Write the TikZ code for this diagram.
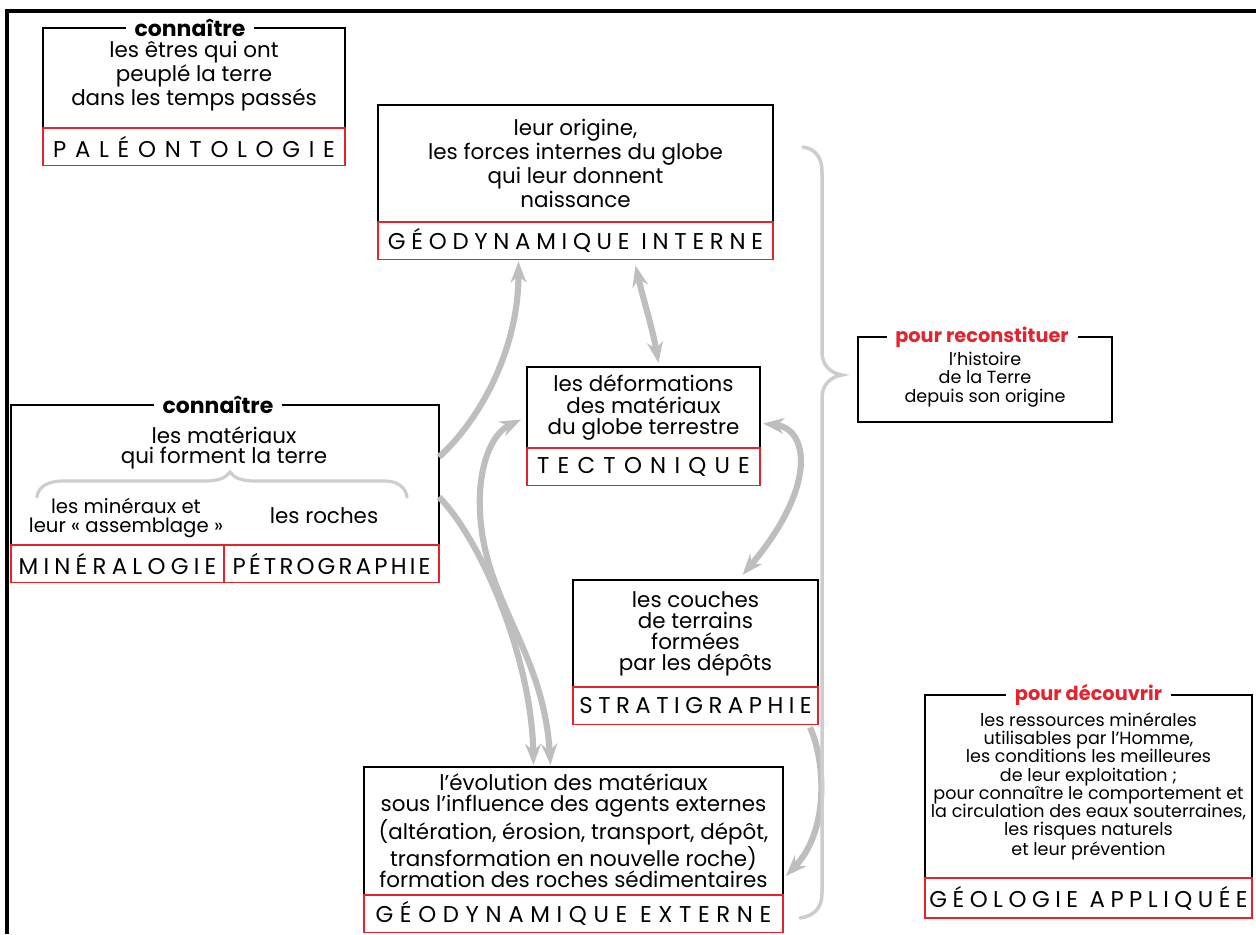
\documentclass[tikz,border=0pt]{standalone}
\usepackage{fontspec}
\setmainfont{Poppins}
\usepackage{xcolor}
\definecolor{geored}{RGB}{228,35,45}
\definecolor{geogray}{RGB}{190,190,190}
\definecolor{geolight}{RGB}{205,205,205}
\usetikzlibrary{arrows.meta,positioning,calc}
\newcommand{\spaced}[2]{{\addfontfeatures{LetterSpace=#1}#2}}

\begin{document}
\begin{tikzpicture}[
  x=0.02cm, y=-0.02cm,
  every node/.style={font=\fontsize{12.2}{12}\selectfont, outer sep=0pt},
  small/.style={font=\fontsize{10}{10.4}\selectfont},
  txtbox/.style={draw=black, line width=0.8pt, align=center, inner sep=0pt},
  lblbox/.style={draw=geored, line width=0.9pt, inner sep=0pt, minimum height=0.75cm,
                 font=\fontsize{13}{15}\selectfont},
  headtag/.style={fill=white, inner xsep=5pt, inner ysep=1pt,
                  font=\fontsize{11}{13}\selectfont\bfseries},
  bigtag/.style={headtag, font=\fontsize{12.5}{14}\selectfont\bfseries},
  flow/.style={draw=geogray, line width=3.5pt, -{Stealth[length=12pt,width=9pt]}},
  flowboth/.style={flow, {Stealth[length=12pt,width=9pt]}-{Stealth[length=12pt,width=9pt]}},
  bracestroke/.style={draw=geolight, line width=1.8pt, line cap=round},
]
  \useasboundingbox (0,0) rectangle (1256,934);
  % frame
  \draw[line width=2.2pt] (7,934) -- (7,11) -- (1256,11);

  % Paleontologie
  \node[txtbox, minimum width=6.04cm, minimum height=2cm] (paleo) at (194,78)
    {les êtres qui ont\\peuplé la terre\\dans les temps passés\rule[-0.18cm]{0pt}{0pt}};
  \node[lblbox, minimum width=6.04cm, below=0pt of paleo] (paleolbl) {\spaced{38}{PALÉONTOLOGIE}};
  \node[bigtag] (paleotag) at ($(paleo.north)+(-4,0)$) {connaître};

  % Mineralogie / Petrographie
  \node[txtbox, minimum width=8.56cm, minimum height=2.8cm] (minpet) at (225,475) {};
  \node[lblbox, anchor=north west, minimum width=4.26cm] (minlbl) at (minpet.south west) {\spaced{23}{MINÉRALOGIE}};
  \node[lblbox, anchor=north east, minimum width=4.3cm] (petlbl) at (minpet.south east) {\spaced{14}{PÉTROGRAPHIE}};
  \node[bigtag] (minpettag) at ($(minpet.north)+(-7,0)$) {connaître};
  \node[align=center, font=\fontsize{12.2}{11.4}\selectfont] (materiaux) at (224,448) {les matériaux\\qui forment la terre};
  \node[align=center, font=\fontsize{11.2}{11}\selectfont] (mineraux) at (126,518) {les minéraux et\\leur «~assemblage~»};
  \node (roches) at (324,516) {les roches};
  \draw[bracestroke] (37,497) .. controls (38,487) and (48,481) .. (62,481) -- (205,481)
    .. controls (218,481) and (226,478) .. (230,472) .. controls (234,478) and (242,481) .. (255,481)
    -- (385,481) .. controls (398,481) and (406,488) .. (407,497);

  % Geodynamique interne
  \node[txtbox, minimum width=7.9cm, minimum height=2.34cm] (geoint) at (575.5,163.5)
    {leur origine,\\les forces internes du globe\\qui leur donnent\\naissance};
  \node[lblbox, minimum width=7.9cm, below=0pt of geoint] (geointlbl) {\spaced{25}{GÉODYNAMIQUE INTERNE}};

  % Tectonique
  \node[txtbox, minimum width=4.66cm, minimum height=1.62cm] (tecto) at (643.5,407.5)
    {les déformations\\des matériaux\\du globe terrestre};
  \node[lblbox, minimum width=4.66cm, below=0pt of tecto] (tectolbl) {\spaced{36}{TECTONIQUE}};

  % pour reconstituer
  \node[txtbox, small, minimum width=5.08cm, minimum height=1.7cm] (recon) at (985,379.5)
    {l’histoire\\de la Terre\\depuis son origine\rule[-0.08cm]{0pt}{0pt}};
  \node[headtag, text=geored] (recontag) at ($(recon.north)+(-3,0)$) {pour reconstituer};

  % Stratigraphie
  \node[txtbox, minimum width=4.9cm, minimum height=2.14cm] (strati) at (695.5,633.5)
    {les couches\\de terrains\\formées\\par les dépôts};
  \node[lblbox, minimum width=4.9cm, below=0pt of strati] (stratilbl) {\spaced{24}{STRATIGRAPHIE}};

  % Geodynamique externe
  \node[txtbox, minimum width=8.38cm, minimum height=2.56cm] (geoext) at (573.5,831)
    {l’évolution des matériaux\\sous l’influence des agents externes\\(altération, érosion, transport, dépôt,\\transformation en nouvelle roche)\\formation des roches sédimentaires};
  \node[lblbox, minimum width=8.38cm, below=0pt of geoext] (geoextlbl) {\spaced{29}{GÉODYNAMIQUE EXTERNE}};

  % Geologie appliquee
  \node[txtbox, small, minimum width=6.54cm, minimum height=3.66cm] (geoapp) at (1088.5,786.5)
    {les ressources minérales\\utilisables par l’Homme,\\les conditions les meilleures\\de leur exploitation ;\\pour connaître le comportement et\\la circulation des eaux souterraines,\\les risques naturels\\et leur prévention};
  \node[lblbox, minimum width=6.54cm, minimum height=0.8cm, below=0pt of geoapp] (geoapplbl) {\spaced{24}{GÉOLOGIE APPLIQUÉE}};
  \node[headtag, text=geored] (geoapptag) at (geoapp.north) {pour découvrir};

  % connectors
  \draw[flow] ($(minpet.east)+(0,-18)$) .. controls +(41,-37) and +(0,88) .. ($(geointlbl.south)+(-57,2)$);
  \draw[flowboth] ($(geointlbl.south)+(60,6)$) .. controls +(8,35) and +(-6,-35) .. ($(tecto.north)+(15,-4)$);
  \draw[flowboth] ($(tecto.west)+(-6,12)$) .. controls +(-31,15) and +(-2,-40) .. (480,510)
    .. controls +(3,90) and +(-7,-115) .. ($(geoext.north)+(-23,-2)$);
  \draw[flow] ($(minpet.east)+(0,22)$) .. controls +(40,40) and +(-2,-110) .. ($(geoext.north)+(-40,-2)$);
  \draw[flowboth] ($(tecto.east)+(3,16)$) .. controls +(45,5) and +(76,-90) .. ($(strati.north)+(47,-5)$);
  \draw[flow] ($(stratilbl.south east)+(-8,3)$) .. controls +(15,32) and +(44,-46) .. ($(geoext.east)+(3,45)$);

  % big brace
  \draw[bracestroke, line width=2pt] (803,147) .. controls (816,149) and (822,158) .. (822,172) -- (822,352)
    .. controls (822,365) and (830,373) .. (842,375) .. controls (830,377) and (822,385) .. (822,398)
    -- (822,893) .. controls (822,908) and (814,916) .. (800,918);
\end{tikzpicture}
\end{document}
